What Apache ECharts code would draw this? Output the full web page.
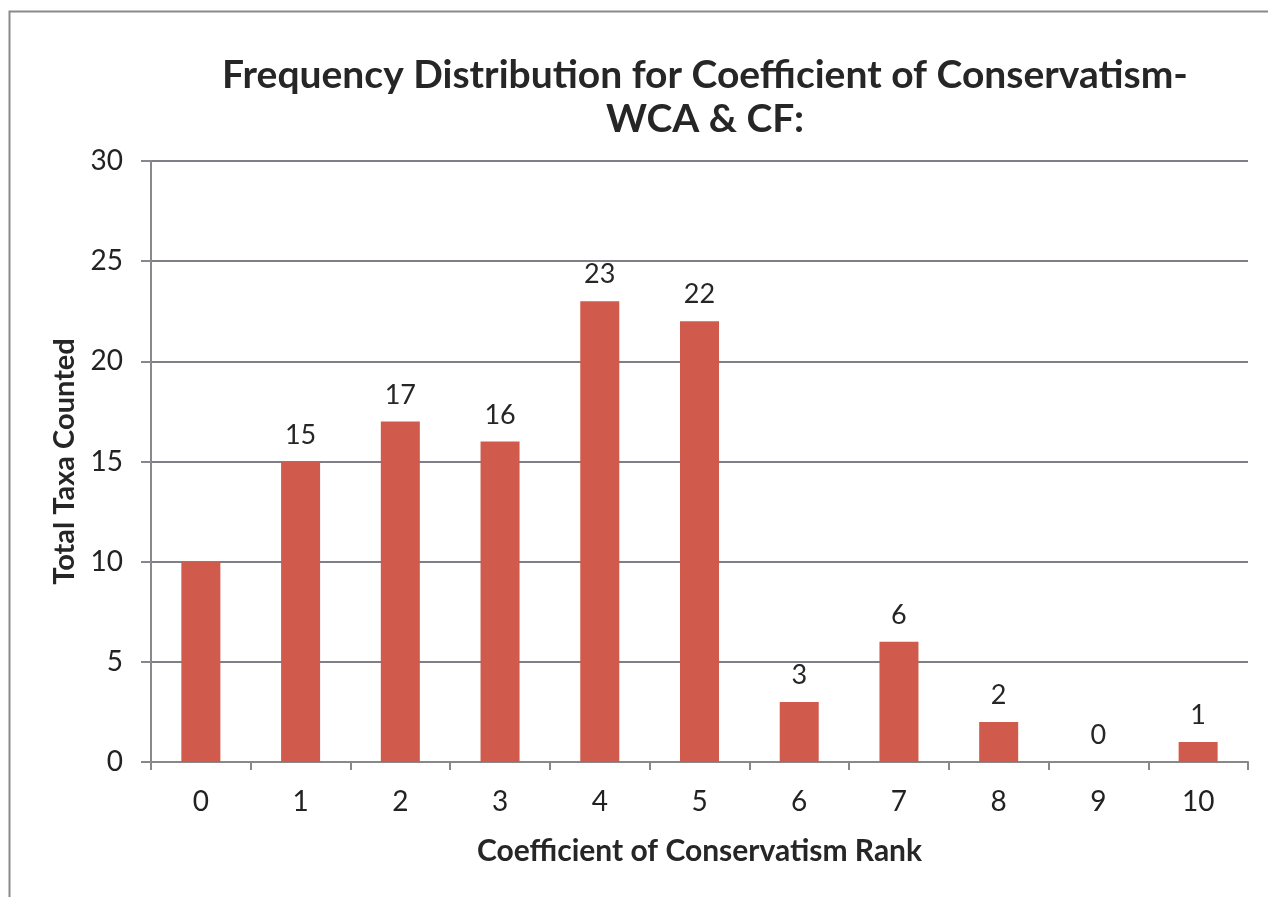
<!DOCTYPE html>
<html>
<head>
<meta charset="utf-8">
<script src="https://cdn.jsdelivr.net/npm/echarts@6/dist/echarts.min.js"></script>
<style>
  html, body { margin: 0; padding: 0; background: #fff; }
  #chart { width: 1268px; height: 897px; }
</style>
</head>
<body>
<div id="chart"></div>
<script>
// Coefficient of Conservatism ranks and number of taxa at each rank
const ranks = ['0', '1', '2', '3', '4', '5', '6', '7', '8', '9', '10'];
const taxaCounts = [10, 15, 17, 16, 23, 22, 3, 6, 2, 0, 1];
// Labels shown above bars (rank 0 has none)
const labelShown = [false, true, true, true, true, true, true, true, true, true, true];

const FONT = 'Lato, "Open Sans", sans-serif';

const chart = echarts.init(document.getElementById('chart'));
chart.setOption({
  animation: false,
  backgroundColor: '#ffffff',
  title: {
    text: 'Frequency Distribution for Coefficient of Conservatism-\nWCA & CF:',
    left: 700,
    top: 48,
    textAlign: 'center',
    textStyle: {
      fontFamily: FONT,
      fontWeight: 'bold',
      fontSize: 39,
      lineHeight: 44,
      color: '#262626'
    }
  },
  graphic: [{
    type: 'polyline',
    shape: { points: [[9.5, 897], [9.5, 11.5], [1268, 11.5]] },
    style: { stroke: '#8a8a8a', lineWidth: 2, fill: null }
  }],
  grid: { left: 151, top: 161, width: 1097, height: 601 },
  xAxis: {
    type: 'category',
    data: ranks,
    boundaryGap: true,
    axisLine: { lineStyle: { color: '#888888', width: 2 } },
    axisTick: { show: true, length: 8, lineStyle: { color: '#888888', width: 2 } },
    axisLabel: { fontFamily: FONT, fontSize: 28, color: '#222', margin: 26 },
    name: 'Coefficient of Conservatism Rank',
    nameLocation: 'middle',
    nameGap: 74,
    nameTextStyle: { fontFamily: FONT, fontWeight: 'bold', fontSize: 30, color: '#262626' }
  },
  yAxis: {
    type: 'value',
    min: 0,
    max: 30,
    interval: 5,
    axisLine: { show: true, lineStyle: { color: '#888888', width: 2 } },
    axisTick: { show: true, length: 10, inside: false, lineStyle: { color: '#888888', width: 2 } },
    splitLine: { show: true, lineStyle: { color: '#7f7f8a', width: 2 } },
    axisLabel: { fontFamily: FONT, fontSize: 28, color: '#222', margin: 28 },
    name: 'Total Taxa Counted',
    nameLocation: 'middle',
    nameGap: 72,
    nameTextStyle: { fontFamily: FONT, fontWeight: 'bold', fontSize: 29, color: '#262626' }
  },
  series: [{
    type: 'bar',
    data: taxaCounts.map((v, i) => ({
      value: v,
      label: { show: labelShown[i] }
    })),
    barWidth: 39,
    itemStyle: { color: '#d05a4c' },
    label: {
      show: true,
      position: 'top',
      distance: 13,
      fontFamily: FONT,
      fontSize: 27,
      color: '#262626'
    }
  }]
});
</script>
</body>
</html>
